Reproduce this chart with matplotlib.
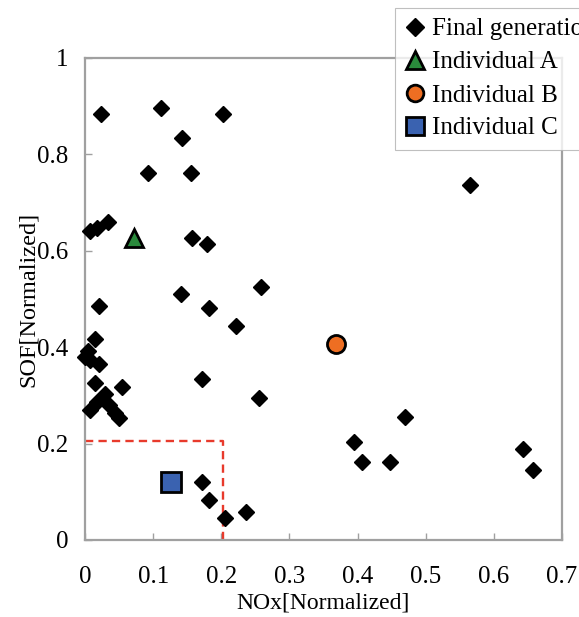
import matplotlib
matplotlib.use("Agg")
import matplotlib.pyplot as plt
from matplotlib.lines import Line2D

plt.rcParams['font.family'] = ['Liberation Serif', 'DejaVu Serif']

# Final generation (NOx, SOF), normalized
final_x = [0.023, 0.111, 0.202, 0.142, 0.092, 0.155, 0.565,
           0.007, 0.018, 0.034, 0.157, 0.179, 0.141, 0.258, 0.182, 0.221, 0.020,
           0.171, 0.256,
           0.015, 0.004, 0.000, 0.008, 0.020, 0.015, 0.054, 0.029, 0.018, 0.008,
           0.035, 0.044, 0.050,
           0.469, 0.395, 0.407, 0.447, 0.643, 0.658,
           0.171, 0.182, 0.206, 0.237]
final_y = [0.884, 0.897, 0.884, 0.834, 0.761, 0.761, 0.737,
           0.642, 0.648, 0.660, 0.627, 0.615, 0.511, 0.524, 0.482, 0.443, 0.486,
           0.333, 0.294,
           0.418, 0.393, 0.379, 0.373, 0.366, 0.325, 0.317, 0.302, 0.286, 0.269,
           0.280, 0.263, 0.253,
           0.255, 0.203, 0.162, 0.162, 0.189, 0.145,
           0.120, 0.083, 0.046, 0.058]

ind_a = (0.072, 0.627)
ind_b = (0.369, 0.407)
ind_c = (0.126, 0.120)

# constraint box (dashed)
box_x = [0.0, 0.202, 0.202]
box_y = [0.206, 0.206, 0.0]

x_ticks = [0, 0.1, 0.2, 0.3, 0.4, 0.5, 0.6, 0.7]
x_ticklabels = ["0", "0.1", "0.2", "0.3", "0.4", "0.5", "0.6", "0.7"]
y_ticks = [0, 0.2, 0.4, 0.6, 0.8, 1.0]
y_ticklabels = ["0", "0.2", "0.4", "0.6", "0.8", "1"]

fig = plt.figure(figsize=(5.79, 6.17), dpi=100)
ax = fig.add_axes([0.1468, 0.1248, 0.8238, 0.7812])

gray = '#a0a0a0'
ax.plot(box_x, box_y, color='#e83a2c', linestyle=(0, (3.5, 2.2)), linewidth=1.7, zorder=2)

ax.plot(final_x, final_y, linestyle='none', marker='D', markersize=8.6,
        color='black', clip_on=False, zorder=3)
ax.plot([ind_a[0]], [ind_a[1]], linestyle='none', marker='^', markersize=13,
        markerfacecolor='#2a8a3c', markeredgecolor='black', markeredgewidth=2, zorder=4)
ax.plot([ind_b[0]], [ind_b[1]], linestyle='none', marker='o', markersize=13,
        markerfacecolor='#ee6e22', markeredgecolor='black', markeredgewidth=2, zorder=4)
ax.plot([ind_c[0]], [ind_c[1]], linestyle='none', marker='s', markersize=14,
        markerfacecolor='#3a62b0', markeredgecolor='black', markeredgewidth=2, zorder=4)

ax.set_xlim(0, 0.7)
ax.set_ylim(0, 1)
ax.set_xticks(x_ticks)
ax.set_xticklabels(x_ticklabels)
ax.set_yticks(y_ticks)
ax.set_yticklabels(y_ticklabels)
ax.tick_params(direction='in', length=5, width=1, color=gray, labelsize=18)
ax.tick_params(axis='x', pad=19)
ax.tick_params(axis='y', pad=12)
for s in ax.spines.values():
    s.set_color(gray)
    s.set_linewidth(1.6)

ax.set_xlabel('NOx[Normalized]', fontsize=17, labelpad=3)
ax.set_ylabel('SOF[Normalized]', fontsize=17.5, labelpad=-1)

handles = [
    Line2D([], [], linestyle='none', marker='D', markersize=9.5, color='black'),
    Line2D([], [], linestyle='none', marker='^', markersize=13, markerfacecolor='#2a8a3c',
           markeredgecolor='black', markeredgewidth=2),
    Line2D([], [], linestyle='none', marker='o', markersize=12, markerfacecolor='#ee6e22',
           markeredgecolor='black', markeredgewidth=2),
    Line2D([], [], linestyle='none', marker='s', markersize=13, markerfacecolor='#3a62b0',
           markeredgecolor='black', markeredgewidth=2),
]
labels = ['Final generation', 'Individual A', 'Individual B', 'Individual C']
leg = fig.legend(handles, labels, loc='upper left', bbox_to_anchor=(395 / 579, 1 - 8 / 617),
                 fontsize=18, frameon=True, fancybox=False, edgecolor='#b0b0b0',
                 handlelength=0.8, handletextpad=0.3, borderpad=0.4, labelspacing=0.42,
                 borderaxespad=0)
leg.get_frame().set_linewidth(0.8)

fig.savefig('out.png', dpi=100)
